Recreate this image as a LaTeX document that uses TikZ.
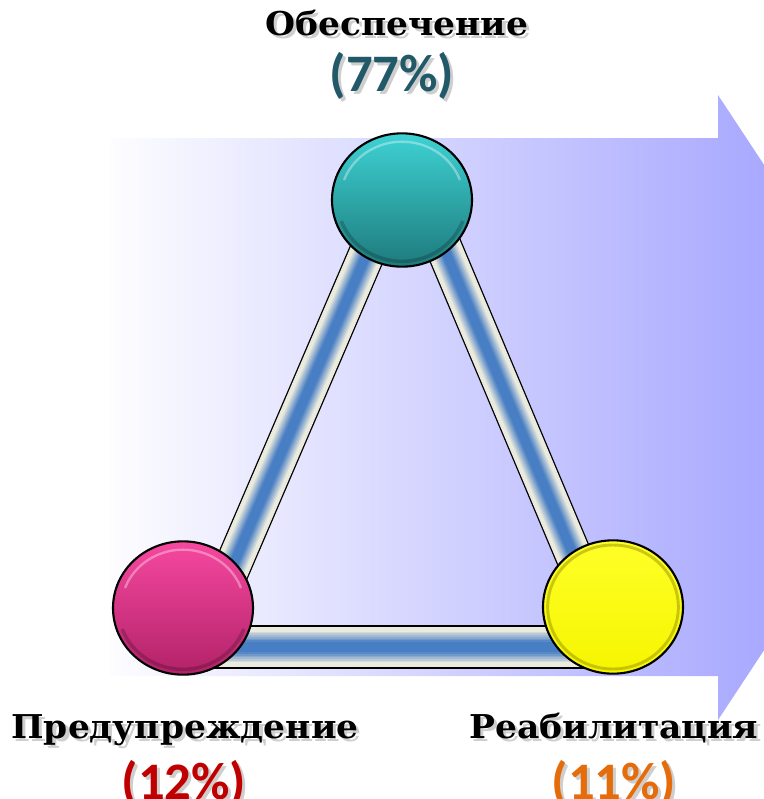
\documentclass[tikz,border=0pt]{standalone}
\usepackage{fontspec}
\newfontfamily\labelfont{DejaVu Serif}
\newfontfamily\pctfont{Carlito}
\usetikzlibrary{shapes.geometric}

\definecolor{tubeedge}{RGB}{234,234,222}
\definecolor{tubeblue}{RGB}{72,126,196}
\definecolor{arrowleft}{RGB}{253,253,255}
\definecolor{arrowmid}{RGB}{234,234,255}
\definecolor{arrowright}{RGB}{148,148,255}
\definecolor{pcteal}{RGB}{33,89,104}
\definecolor{pcred}{RGB}{192,0,0}
\definecolor{pcorange}{RGB}{228,108,10}
\definecolor{tealtop}{RGB}{62,210,212}
\definecolor{tealbot}{RGB}{30,122,124}
\definecolor{pinktop}{RGB}{246,72,160}
\definecolor{pinkbot}{RGB}{178,34,104}
\definecolor{yelltop}{RGB}{255,255,40}
\definecolor{yellbot}{RGB}{245,245,0}

\tikzset{
  ball/.style={ellipse, draw=black, line width=1.8pt, minimum width=42mm, minimum height=40mm, inner sep=0pt},
  headline/.style={font=\labelfont\bfseries\fontsize{28}{32}\selectfont, xscale=1.05, inner sep=0pt},
  share/.style={font=\pctfont\bfseries\fontsize{45}{50}\selectfont, inner sep=0pt},
}

% tube between two points: from, to, width in px
\newcommand\tubebar[3]{%
  \pgfmathsetmacro\tubeout{#3*0.85+2.2}
  \draw[line width=\tubeout pt, black] (#1) -- (#2);
  \foreach \k in {0,...,11}{
    \pgfmathsetmacro\tubew{#3*0.85*(1-\k/12)}
    \pgfmathsetmacro\tubep{min(100,max(0,\k-2)*15)}
    \draw[line width=\tubew pt, tubeblue!\tubep!tubeedge] (#1) -- (#2);
  }}

% text with grey drop shadow: name, position, style, text
\newcommand\shadowtext[4]{%
  \node[#3, text=gray!55, opacity=.7, xshift=0.9mm, yshift=-1mm] (#1-shadow) at #2 {#4};
  \node[#3] (#1) at #2 {#4};}

\begin{document}
\begin{tikzpicture}[x=0.3mm, y=-0.3mm]
  \useasboundingbox (0,0) rectangle (763,799);

  % big arrow in the background
  \shade[left color=arrowleft, middle color=arrowmid, right color=arrowright]
    (110,138) -- (718,138) -- (718,95) -- (924,407.5) -- (718,720) -- (718,676) -- (110,676) -- cycle;

  % corners of the triangle
  \coordinate (vtop) at (407,160);
  \coordinate (vleft) at (198,647);
  \coordinate (vright) at (612,647);

  \tubebar{vtop}{vleft}{35}
  \tubebar{vtop}{vright}{35}
  \tubebar{vleft}{vright}{41}

  % balls
  \node[ball, top color=tealtop, bottom color=tealbot] (obes) at (402,200) {};
  \node[ball, top color=pinktop, bottom color=pinkbot] (pred) at (183,608) {};
  \node[ball, top color=yelltop, bottom color=yellbot] (reab) at (613,607) {};

  \draw[white, opacity=.35, line width=2pt] ([shift={(160:18.5mm and 17.5mm)}]obes.center) arc[start angle=160, end angle=20, x radius=18.5mm, y radius=17.5mm];
  \draw[white, opacity=.35, line width=2pt] ([shift={(160:18.5mm and 17.5mm)}]pred.center) arc[start angle=160, end angle=20, x radius=18.5mm, y radius=17.5mm];
  \draw[olive, opacity=.45, line width=2.5pt] (reab.center) ellipse[x radius=19.6mm, y radius=18.6mm];
  \draw[black, opacity=.2, line width=3pt] ([shift={(200:19.4mm and 18.4mm)}]obes.center) arc[start angle=200, end angle=340, x radius=19.4mm, y radius=18.4mm];
  \draw[black, opacity=.2, line width=3pt] ([shift={(200:19.4mm and 18.4mm)}]pred.center) arc[start angle=200, end angle=340, x radius=19.4mm, y radius=18.4mm];

  % labels
  \shadowtext{obes-lbl}{(397,35)}{headline, anchor=base}{Обеспечение}
  \shadowtext{obes-pct}{(392,76)}{share, text=pcteal}{(77\%)}
  \shadowtext{pred-lbl}{(185,738)}{headline, anchor=base}{Предупреждение}
  \shadowtext{pred-pct}{(184,784)}{share, text=pcred}{(12\%)}
  \shadowtext{reab-lbl}{(614,738)}{headline, anchor=base}{Реабилитация}
  \shadowtext{reab-pct}{(614,784)}{share, text=pcorange}{(11\%)}
\end{tikzpicture}
\end{document}
